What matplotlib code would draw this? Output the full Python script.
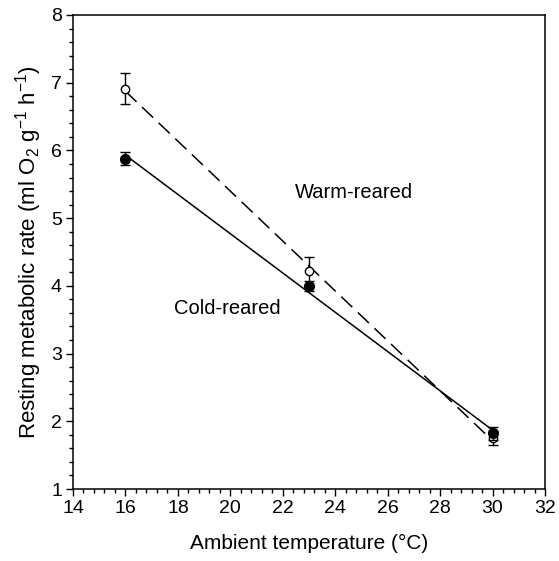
import numpy as np
import matplotlib
matplotlib.use("Agg")
import matplotlib.pyplot as plt
from matplotlib.ticker import MultipleLocator

plt.rcParams['font.family'] = ['Liberation Sans', 'DejaVu Sans']
plt.rcParams['mathtext.default'] = 'regular'

temps = [16, 23, 30]
cold_mean = [5.88, 4.00, 1.82]
cold_err = [0.10, 0.07, 0.10]
warm_mean = [6.91, 4.22, 1.75]
warm_err_lo = [0.23, 0.20, 0.10]
warm_err_hi = [0.24, 0.20, 0.10]

fig = plt.figure(figsize=(5.59, 5.61), dpi=100)
ax = fig.add_axes([0.1306, 0.1283, 0.975 - 0.1306, 0.9733 - 0.1283])

t = np.array(temps, dtype=float)
pc = np.polyfit(t, cold_mean, 1)
pw = np.polyfit(t, warm_mean, 1)
xl = np.array([16, 30], dtype=float)
ax.plot(xl, np.polyval(pc, xl), color='black', lw=1.1, zorder=2)
ax.plot(xl, np.polyval(pw, xl), color='black', lw=1.1, dashes=(10, 5), zorder=2)

ax.errorbar(temps, warm_mean, yerr=[warm_err_lo, warm_err_hi], fmt='o', color='black',
            mfc='white', mec='black', ms=6, mew=1.0, ecolor='black', elinewidth=1.0,
            capsize=3.6, capthick=1.0, zorder=3)
ax.errorbar(temps, cold_mean, yerr=cold_err, fmt='o', color='black',
            mfc='black', mec='black', ms=7, ecolor='black', elinewidth=1.0,
            capsize=3.6, capthick=1.0, zorder=4)

ax.text(22.45, 5.38, 'Warm-reared', fontsize=14.5, ha='left', va='center')
ax.text(17.85, 3.67, 'Cold-reared', fontsize=14.5, ha='left', va='center')

ax.set_xlim(14, 32)
ax.set_ylim(1, 8)
ax.xaxis.set_major_locator(MultipleLocator(2))
ax.xaxis.set_minor_locator(MultipleLocator(0.4))
ax.yaxis.set_major_locator(MultipleLocator(1))
ax.yaxis.set_minor_locator(MultipleLocator(0.2))
ax.tick_params(which='major', direction='out', length=5, width=1, labelsize=14, pad=3)
ax.tick_params(which='minor', direction='out', length=2.8, width=1)
for s in ax.spines.values():
    s.set_linewidth(1.1)

ax.set_xlabel('Ambient temperature (°C)', fontsize=15, labelpad=12)
ax.set_ylabel('Resting metabolic rate (ml O$_2$ g$^{-1}$ h$^{-1}$)', fontsize=16, labelpad=5)

fig.savefig('out.png', dpi=100)
